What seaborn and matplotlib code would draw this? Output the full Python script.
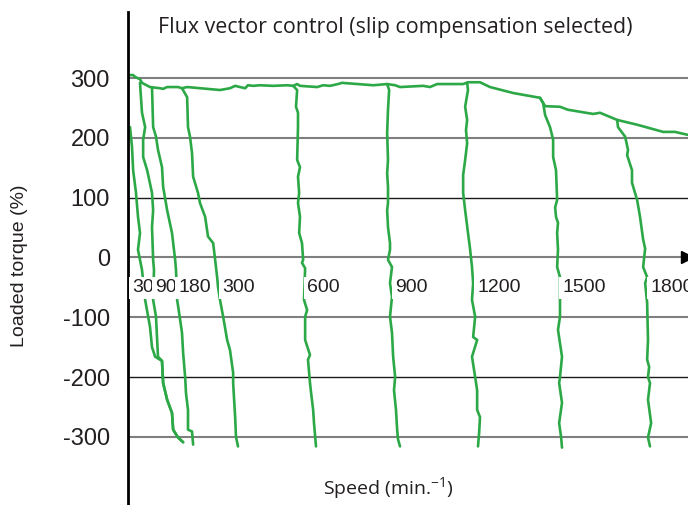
import numpy as np
import pandas as pd
import matplotlib
matplotlib.use("Agg")
import matplotlib.pyplot as plt
import seaborn as sns

# ---- data (speed in min^-1, loaded torque in %) ----
env_speed = [0, 11, 18, 35, 42, 70, 105, 116, 130, 151, 168, 182, 200, 315, 350, 368,
             385, 403, 413, 431, 455, 501, 550, 571, 585, 595, 655, 676, 700, 728, 742,
             851, 900, 928, 945, 1026, 1050, 1075, 1166, 1183, 1225, 1260, 1341, 1435,
             1453, 1505, 1533, 1621, 1645, 1705, 1775, 1866, 1908, 1925, 1953]
env_torque = [305, 305, 302, 298, 292, 285, 283, 282, 285, 285, 285, 283, 285, 280, 283, 287,
              285, 283, 288, 287, 288, 287, 288, 287, 290, 287, 285, 288, 287, 290, 292,
              288, 290, 288, 285, 287, 285, 290, 290, 293, 293, 285, 275, 267,
              253, 252, 247, 240, 242, 230, 222, 210, 210, 208, 205]

spd_30 = [0, 7, 11, 21, 28, 35, 28, 42, 53, 70, 77, 88, 105, 112, 116, 130, 147, 151, 168, 186]
trq_30 = [218, 185, 146, 108, 68, 41, 13, -21, -71, -116, -150, -166, -171, -173, -210, -238,
          -260, -288, -301, -309]

spd_90 = [35, 42, 53, 46, 46, 60, 77, 81, 77, 81, 84, 81, 91, 95, 98, 112, 116, 130, 147,
          151, 168, 186]
trq_90 = [292, 242, 218, 197, 168, 146, 108, 79, 51, -4, -21, -71, -99, -138, -166, -173,
          -210, -238, -260, -288, -301, -309]

spd_180 = [77, 81, 91, 98, 112, 116, 130, 147, 158, 161, 165, 172, 182, 186, 193, 196, 203,
           203, 217, 221]
trq_180 = [285, 218, 202, 180, 151, 118, 79, 41, -4, -21, -71, -93, -126, -160, -200, -227,
           -255, -288, -291, -313]

spd_300 = [182, 200, 203, 210, 217, 221, 238, 245, 263, 273, 291, 298, 305, 308, 315, 326,
           340, 350, 361, 361, 368, 371, 378]
trq_300 = [283, 268, 218, 202, 175, 135, 108, 91, 68, 35, 24, -4, -33, -49, -71, -99,
           -138, -155, -193, -210, -267, -300, -316]

spd_600 = [571, 585, 581, 588, 588, 585, 595, 588, 592, 588, 595, 592, 602, 606, 602, 613,
           609, 620, 613, 613, 630, 623, 630, 634, 641, 644, 651]
trq_600 = [287, 280, 252, 242, 218, 163, 151, 135, 108, 91, 68, 41, 24, -4, -9, -18,
           -71, -88, -99, -138, -163, -171, -210, -227, -255, -277, -316]

spd_900 = [900, 907, 903, 900, 903, 900, 903, 903, 900, 903, 910, 910, 903, 917, 910, 917,
           910, 917, 921, 928, 924, 931, 935, 938, 945]
trq_900 = [290, 280, 247, 208, 163, 141, 118, 91, 79, 51, 24, 13, -4, -16, -43, -66,
           -99, -126, -166, -200, -222, -255, -288, -304, -316]

spd_1200 = [1180, 1183, 1173, 1180, 1176, 1180, 1173, 1166, 1166, 1173, 1183, 1190, 1197,
            1201, 1197, 1208, 1201, 1215, 1197, 1208, 1215, 1215, 1225, 1222, 1218]
trq_1200 = [292, 280, 252, 230, 213, 191, 163, 138, 108, 79, 41, 15, -16,
            -43, -71, -99, -133, -138, -166, -200, -222, -255, -267, -293, -316]

spd_1500 = [1435, 1446, 1453, 1470, 1481, 1481, 1491, 1495, 1488, 1491, 1498, 1495, 1498,
            1495, 1505, 1505, 1498, 1512, 1505, 1502, 1512, 1502, 1509, 1512]
trq_1500 = [267, 258, 238, 218, 197, 168, 146, 96, 84, 68, 58, 41, 13,
            -16, -33, -99, -121, -166, -200, -210, -243, -277, -301, -318]

spd_1800 = [1705, 1708, 1733, 1743, 1740, 1757, 1757, 1775, 1785, 1796, 1803, 1796, 1810,
            1803, 1810, 1813, 1810, 1817, 1813, 1820, 1813, 1824, 1813, 1820]
trq_1800 = [230, 218, 202, 180, 171, 146, 125, 96, 68, 30, 15, -16, -33,
            -43, -76, -138, -171, -183, -200, -210, -238, -277, -301, -316]

speed_labels = ["30", "90", "180", "300", "600", "900", "1200", "1500", "1800"]
label_speed = [7, 88, 168, 322, 620, 928, 1215, 1512, 1820]
label_torque = -51

torque_ticks = [300, 200, 100, 0, -100, -200, -300]
grid_colors = ["#7f7f7f", "#7f7f7f", "#1a1a1a", "#7f7f7f", "#7f7f7f", "#1a1a1a", "#7f7f7f"]
grid_widths = [1.5, 1.5, 1.0, 1.5, 1.5, 1.0, 1.5]

curves = [(env_speed, env_torque), (spd_30, trq_30), (spd_90, trq_90), (spd_180, trq_180),
          (spd_300, trq_300), (spd_600, trq_600), (spd_900, trq_900),
          (spd_1200, trq_1200), (spd_1500, trq_1500), (spd_1800, trq_1800)]

# ---- plotting ----
sns.set_theme(style="white")
plt.rcParams["font.family"] = ["Liberation Sans", "DejaVu Sans"]
plt.rcParams["mathtext.default"] = "regular"

green = "#2ca847"
text_col = "#231f20"

fig = plt.figure(figsize=(6.88, 5.05), dpi=100)
ax = fig.add_axes([128 / 688, 0, 560 / 688, 493 / 505])

for t, c, w in zip(torque_ticks, grid_colors, grid_widths):
    ax.axhline(t, color=c, lw=w, zorder=1)

for spd, trq in curves:
    df = pd.DataFrame({"speed": spd, "torque": trq})
    sns.lineplot(data=df, x="speed", y="torque", sort=False, estimator=None,
                 color=green, lw=1.9, ax=ax, zorder=2)

for lab, s in zip(speed_labels, label_speed):
    ax.text(s, label_torque, lab, ha="left", va="center", fontsize=14, color=text_col,
            bbox=dict(facecolor="white", edgecolor="none", boxstyle="square,pad=0.15"),
            zorder=4)

ax.set_xlim(-7, 1953)
ax.set_ylim(-414, 410.5)

# arrow head at the end of the zero line
ax.plot([1950], [0], marker=">", ms=9, color="black", clip_on=False, zorder=5)

for side in ["top", "right", "bottom"]:
    ax.spines[side].set_visible(False)
ax.spines["left"].set_color("black")
ax.spines["left"].set_linewidth(2.0)

ax.set_xticks([])
ax.set_yticks(torque_ticks)
ax.set_yticklabels([str(t) for t in torque_ticks], fontsize=17, color=text_col)
ax.tick_params(axis="y", length=0, pad=13)
ax.set_xlabel("")
ax.set_ylabel("")

fig.text(395 / 688, 1 - 27 / 505, "Flux vector control (slip compensation selected)",
         ha="center", va="center", fontsize=15.4, family="Open Sans", color=text_col)
fig.text(388 / 688, 1 - 488 / 505, "Speed (min.$^{-1}$)", ha="center", va="center",
         fontsize=14, family="Open Sans", color=text_col)
fig.text(20 / 688, 1 - 266 / 505, "Loaded torque (%)", rotation=90, ha="center",
         va="center", fontsize=14, color=text_col)

fig.savefig("out.png", dpi=100)
